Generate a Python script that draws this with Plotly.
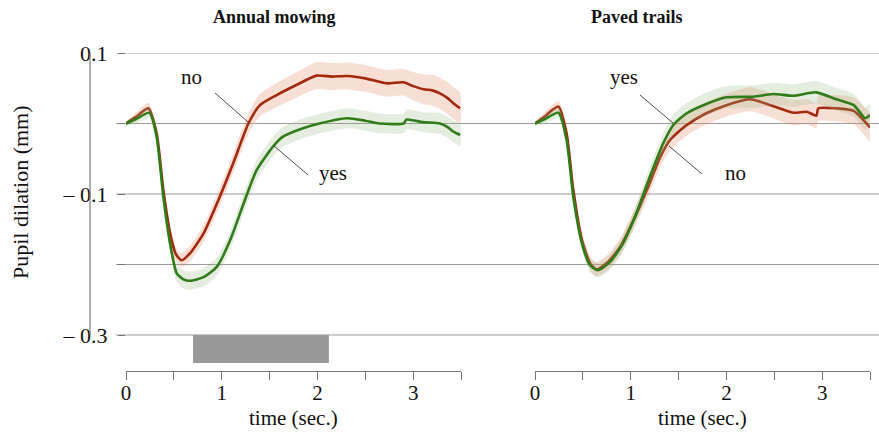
import numpy as np
import plotly.graph_objects as go

# ---------------- data ----------------
# Annual mowing
am_no_t = [0.0, 0.10, 0.233, 0.32, 0.39, 0.46, 0.52, 0.58, 0.67, 0.81, 0.98, 1.12, 1.28, 1.40, 1.575, 1.78, 1.99, 2.15, 2.31, 2.50, 2.72, 2.90, 3.00, 3.11, 3.20, 3.28, 3.36, 3.42, 3.49]
am_no_v = [0.0, 0.009, 0.0215, -0.014, -0.094, -0.155, -0.185, -0.194, -0.184, -0.156, -0.104, -0.0565, 0.0003, 0.026, 0.0404, 0.0546, 0.0679, 0.0665, 0.0674, 0.064, 0.057, 0.0584, 0.053, 0.0485, 0.047, 0.0428, 0.036, 0.0287, 0.0215]
am_no_se = [0.003, 0.006, 0.008, 0.009, 0.010, 0.010, 0.010, 0.010, 0.011, 0.012, 0.013, 0.014, 0.015, 0.016, 0.017, 0.018, 0.019, 0.019, 0.019, 0.019, 0.019, 0.019, 0.020, 0.021, 0.022, 0.022, 0.023, 0.023, 0.022]

am_yes_t = [0.0, 0.10, 0.245, 0.32, 0.39, 0.46, 0.53, 0.60, 0.67, 0.81, 0.95, 1.09, 1.23, 1.365, 1.54, 1.64, 1.85, 2.03, 2.31, 2.50, 2.65, 2.90, 2.93, 3.10, 3.28, 3.36, 3.42, 3.49]
am_yes_v = [0.0, 0.006, 0.0153, -0.0187, -0.104, -0.170, -0.2125, -0.221, -0.223, -0.218, -0.203, -0.165, -0.113, -0.066, -0.032, -0.0187, -0.0068, 0.0003, 0.0074, 0.004, 0.0, 0.0, 0.0055, 0.002, 0.0, -0.005, -0.0116, -0.0163]
am_yes_se = [0.003, 0.006, 0.008, 0.009, 0.010, 0.011, 0.012, 0.013, 0.013, 0.013, 0.013, 0.013, 0.014, 0.014, 0.014, 0.014, 0.014, 0.014, 0.014, 0.014, 0.014, 0.014, 0.014, 0.014, 0.015, 0.015, 0.015, 0.015]

# Paved trails
pt_no_t = [0.0, 0.10, 0.245, 0.33, 0.40, 0.49, 0.575, 0.64, 0.75, 0.89, 1.03, 1.17, 1.31, 1.41, 1.585, 1.79, 2.00, 2.25, 2.46, 2.70, 2.84, 2.94, 2.96, 3.15, 3.33, 3.43, 3.50]
pt_no_v = [0.0, 0.010, 0.0239, -0.014, -0.094, -0.165, -0.198, -0.207, -0.198, -0.175, -0.137, -0.094, -0.047, -0.0234, -0.0021, 0.0145, 0.026, 0.0343, 0.026, 0.0153, 0.0167, 0.011, 0.0215, 0.0215, 0.018, 0.005, -0.0054]
pt_no_se = [0.003, 0.006, 0.008, 0.009, 0.010, 0.010, 0.010, 0.010, 0.011, 0.012, 0.013, 0.014, 0.014, 0.015, 0.015, 0.016, 0.016, 0.017, 0.017, 0.018, 0.018, 0.018, 0.018, 0.019, 0.019, 0.020, 0.020]

pt_yes_t = [0.0, 0.10, 0.245, 0.33, 0.40, 0.49, 0.575, 0.66, 0.78, 0.92, 1.06, 1.20, 1.34, 1.445, 1.585, 1.79, 2.00, 2.28, 2.49, 2.70, 2.94, 3.15, 3.33, 3.45, 3.50]
pt_yes_v = [0.0, 0.006, 0.0153, -0.0234, -0.104, -0.170, -0.201, -0.208, -0.197, -0.170, -0.127, -0.0755, -0.028, -0.0021, 0.0145, 0.0277, 0.0371, 0.038, 0.0418, 0.0394, 0.0442, 0.0343, 0.026, 0.0074, 0.012]
pt_yes_se = [0.003, 0.006, 0.008, 0.009, 0.010, 0.010, 0.010, 0.010, 0.011, 0.012, 0.013, 0.014, 0.014, 0.015, 0.015, 0.016, 0.016, 0.016, 0.016, 0.016, 0.016, 0.016, 0.016, 0.016, 0.016]

panel_titles = ["Annual mowing", "Paved trails"]
y_tickvals = [0.1, 0.0, -0.1, -0.2, -0.3]
y_ticktext = ["0.1", "", "– 0.1", "", "– 0.3"]
x_tickvals = [0, 0.5, 1, 1.5, 2, 2.5, 3, 3.5]
x_ticktext = ["0", "", "1", "", "2", "", "3", ""]
stimulus_span = [0.70, 2.12]   # gray bar (sec.)

# ---------------- styles ----------------
RED = "#a3280c"
RED_BAND = "rgba(232,150,120,0.30)"
GREEN = "#2f7d18"
GREEN_BAND = "rgba(150,185,130,0.25)"
FONT = "Liberation Serif"
GRID = "#9a9a9a"
AXIS = "#777777"

fig = go.Figure()


def add_series(t, v, se, color, band, xa):
    t = np.array(t)
    v = np.array(v)
    se = np.array(se)
    fig.add_trace(go.Scatter(
        x=np.concatenate([t, t[::-1]]),
        y=np.concatenate([v + se, (v - se)[::-1]]),
        fill="toself", fillcolor=band, line=dict(width=0, shape="spline", smoothing=0.6),
        mode="lines", hoverinfo="skip", showlegend=False, xaxis=xa, yaxis="y"))
    fig.add_trace(go.Scatter(
        x=t, y=v, mode="lines", line=dict(color=color, width=2.6, shape="spline", smoothing=0.6),
        showlegend=False, xaxis=xa, yaxis="y"))


add_series(am_no_t, am_no_v, am_no_se, RED, RED_BAND, "x")
add_series(am_yes_t, am_yes_v, am_yes_se, GREEN, GREEN_BAND, "x")
add_series(pt_no_t, pt_no_v, pt_no_se, RED, RED_BAND, "x2")
add_series(pt_yes_t, pt_yes_v, pt_yes_se, GREEN, GREEN_BAND, "x2")

W, H = 879, 433
ML, MR, MT, MB = 90, 0, 53, 62
pw = W - ML - MR
ph = H - MT - MB

y_lo = -0.3 - 36 / 705.0
y_hi = 0.1

shapes = []
# horizontal gridlines
for yv in y_tickvals:
    shapes.append(dict(type="line", xref="paper", yref="y", x0=26 / pw, x1=1, y0=yv, y1=yv,
                       line=dict(color=GRID, width=1.2), layer="below"))
# y axis spine
shapes.append(dict(type="line", xref="paper", yref="y", x0=0, x1=0, y0=min(y_tickvals), y1=max(y_tickvals),
                   line=dict(color=AXIS, width=1.2)))
# stimulus bar
shapes.append(dict(type="rect", xref="x", yref="y", x0=stimulus_span[0], x1=stimulus_span[1],
                   y0=-0.3, y1=-0.3397, fillcolor="#999999", line=dict(width=0), layer="above"))
# leader lines
leader = [("x", 0.93, 0.0433, 1.275, 0.0021), ("x", 1.547, -0.0319, 1.902, -0.073),
          ("x2", 1.097, 0.0404, 1.442, 0.0007), ("x2", 1.40, -0.032, 1.745, -0.0716)]
for xa, x0, y0, x1, y1 in leader:
    shapes.append(dict(type="line", xref=xa, yref="y", x0=x0, y0=y0, x1=x1, y1=y1,
                       line=dict(color="#222222", width=0.8)))

annotations = []
for xa, xt, yt, txt in [("x", 0.68, 0.066, "no"), ("x", 2.163, -0.070, "yes"),
                        ("x2", 0.93, 0.066, "yes"), ("x2", 2.09, -0.070, "no")]:
    annotations.append(dict(xref=xa, yref="y", x=xt, y=yt, text=txt, showarrow=False,
                            font=dict(family=FONT, size=21, color="#111111"),
                            xanchor="center", yanchor="middle"))
for xc, title in zip([(274 - ML) / pw, (637 - ML) / pw], panel_titles):
    annotations.append(dict(xref="paper", yref="paper", x=xc, y=(H - MB - 17) / ph, text="<b>" + title + "</b>",
                            showarrow=False, font=dict(family=FONT, size=18, color="#111111"),
                            xanchor="center", yanchor="middle"))
for xc in [(293 - ML) / pw, (702 - ML) / pw]:
    annotations.append(dict(xref="paper", yref="paper", x=xc, y=(H - MB - 418) / ph, text="time (sec.)",
                            showarrow=False, font=dict(family=FONT, size=21, color="#111111"),
                            xanchor="center", yanchor="middle"))
annotations.append(dict(xref="paper", yref="paper", x=(20 - ML) / pw, y=(H - MB - 192) / ph,
                        text="Pupil dilation (mm)", textangle=-90, showarrow=False,
                        font=dict(family=FONT, size=22, color="#111111"),
                        xanchor="center", yanchor="middle"))

xaxis_common = dict(range=[0, 3.5], tickvals=x_tickvals, ticktext=x_ticktext, showgrid=False,
                    zeroline=False, showline=True, linecolor=AXIS, linewidth=1.2, ticks="outside",
                    ticklen=8, tickcolor=AXIS, tickwidth=1.2, ticklabelstandoff=-5,
                    tickfont=dict(family=FONT, size=21, color="#111111"), anchor="y")

fig.update_layout(
    width=W, height=H, margin=dict(l=ML, r=MR, t=MT, b=MB),
    paper_bgcolor="white", plot_bgcolor="white",
    xaxis=dict(domain=[(126 - ML) / pw, (461 - ML) / pw], **xaxis_common),
    xaxis2=dict(domain=[(535 - ML) / pw, (870 - ML) / pw], **xaxis_common),
    yaxis=dict(range=[y_lo, y_hi], tickvals=y_tickvals, ticktext=y_ticktext, showgrid=False,
               zeroline=False, showline=False, ticks="outside", ticklen=7, tickcolor=AXIS, tickwidth=1.2,
               ticklabelstandoff=6, tickfont=dict(family=FONT, size=22, color="#111111")),
    shapes=shapes, annotations=annotations, showlegend=False,
)

fig.write_html("out.html", config={"displayModeBar": False},
               post_script="document.body.style.margin='0px';document.body.style.overflow='hidden';")
